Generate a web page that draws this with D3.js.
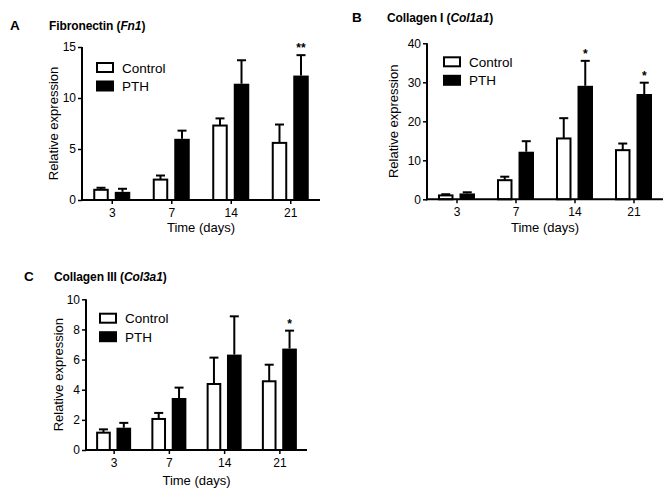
<!DOCTYPE html>
<html><head><meta charset="utf-8">
<script src="https://cdn.jsdelivr.net/npm/d3@7"></script>
<style>
html,body{margin:0;padding:0;background:#fff;}
svg{display:block;font-family:"Liberation Sans",Arial,sans-serif;}
</style></head>
<body>
<svg id="chart" width="672" height="496"></svg>
<script>
// ---- data ----
const categories = ["3", "7", "14", "21"];
const seriesNames = ["Control", "PTH"];

const fn1Control    = [1.0, 2.0, 7.3, 5.6];
const fn1ControlErr = [0.2, 0.4, 0.7, 1.8];
const fn1PTH        = [0.8, 6.0, 11.4, 12.2];
const fn1PTHErr     = [0.3, 0.8, 2.3, 2.0];
const fn1Sig        = ["", "", "", "**"];

const col1Control    = [1.0, 4.9, 15.6, 12.6];
const col1ControlErr = [0.3, 0.9, 5.2, 1.7];
const col1PTH        = [1.5, 12.2, 29.1, 27.0];
const col1PTHErr     = [0.3, 2.7, 6.4, 2.9];
const col1Sig        = ["", "", "*", "*"];

const col3Control    = [1.15, 2.06, 4.38, 4.56];
const col3ControlErr = [0.22, 0.40, 1.75, 1.10];
const col3PTH        = [1.48, 3.45, 6.33, 6.73];
const col3PTHErr     = [0.32, 0.69, 2.54, 1.19];
const col3Sig        = ["", "", "", "*"];

const fn1Ticks  = [0, 5, 10, 15];
const col1Ticks = [0, 10, 20, 30, 40];
const col3Ticks = [0, 2, 4, 6, 8, 10];

// ---- layout ----
const panels = [
  {letter: "A", title: ["Fibronectin (", "Fn1", ")"], letterX: 10, titleX: 49, titleY: 30,
   x0: 82, x1: 320, yTop: 47, yBot: 200, max: 15, ticks: fn1Ticks,
   ctrl: fn1Control, ctrlErr: fn1ControlErr, pth: fn1PTH, pthErr: fn1PTHErr, sig: fn1Sig,
   legX: 14, legY: 15, ylabX: -24, tickLabY: 17, xTitleY: 32, groupW: 37},
  {letter: "B", title: ["Collagen I (", "Col1a1", ")"], letterX: 352, titleX: 387, titleY: 22,
   x0: 427, x1: 663, yTop: 43.3, yBot: 199.3, max: 40, ticks: col1Ticks,
   ctrl: col1Control, ctrlErr: col1ControlErr, pth: col1PTH, pthErr: col1PTHErr, sig: col1Sig,
   legX: 16, legY: 13, ylabX: -29, tickLabY: 17, xTitleY: 33, groupW: 37},
  {letter: "C", title: ["Collagen III (", "Col3a1", ")"], letterX: 24, titleX: 54, titleY: 281,
   x0: 86, x1: 307, yTop: 299.3, yBot: 450, max: 10, ticks: col3Ticks,
   ctrl: col3Control, ctrlErr: col3ControlErr, pth: col3PTH, pthErr: col3PTHErr, sig: col3Sig,
   legX: 13, legY: 13.4, ylabX: -23, tickLabY: 16.5, xTitleY: 35, groupW: 35}
];

const svg = d3.select("#chart");

panels.forEach(p => {
  const g = svg.append("g");
  const x = d3.scalePoint().domain(categories).range([p.x0, p.x1]).padding(0.5);
  const xi = d3.scaleBand().domain(seriesNames).range([-p.groupW/2, p.groupW/2]).paddingInner(0.28);
  const y = d3.scaleLinear().domain([0, p.max]).range([p.yBot, p.yTop]);

  // panel letter + title
  g.append("text").attr("x", p.letterX).attr("y", p.titleY)
    .attr("font-size", 13.5).attr("font-weight", "bold").text(p.letter);
  const t = g.append("text").attr("x", p.titleX).attr("y", p.titleY)
    .attr("font-size", 12).attr("font-weight", "bold").attr("letter-spacing", -0.1);
  t.append("tspan").text(p.title[0]);
  t.append("tspan").attr("font-style", "italic").text(p.title[1]);
  t.append("tspan").text(p.title[2]);

  const rows = categories.map((c, i) => [
    {c, s: "Control", v: p.ctrl[i], e: p.ctrlErr[i], sig: ""},
    {c, s: "PTH", v: p.pth[i], e: p.pthErr[i], sig: p.sig[i]}
  ]).flat();

  // error bars (drawn first so bar covers the lower part)
  const eb = g.selectAll(".eb").data(rows).enter().append("g");
  eb.append("line")
    .attr("x1", d => x(d.c) + xi(d.s) + xi.bandwidth()/2)
    .attr("x2", d => x(d.c) + xi(d.s) + xi.bandwidth()/2)
    .attr("y1", d => y(d.v)).attr("y2", d => y(d.v + d.e))
    .attr("stroke", "#000").attr("stroke-width", 2);
  eb.append("line")
    .attr("x1", d => x(d.c) + xi(d.s) + xi.bandwidth()/2 - 4.5)
    .attr("x2", d => x(d.c) + xi(d.s) + xi.bandwidth()/2 + 4.5)
    .attr("y1", d => y(d.v + d.e)).attr("y2", d => y(d.v + d.e))
    .attr("stroke", "#000").attr("stroke-width", 2);

  // bars
  g.selectAll(".bar").data(rows).enter().append("rect")
    .attr("x", d => x(d.c) + xi(d.s) + (d.s === "Control" ? 1 : 0))
    .attr("width", d => xi.bandwidth() - (d.s === "Control" ? 2 : 0))
    .attr("y", d => y(d.v))
    .attr("height", d => y(0) - y(d.v))
    .attr("fill", d => d.s === "Control" ? "#fff" : "#000")
    .attr("stroke", "#000").attr("stroke-width", d => d.s === "Control" ? 2 : 0);

  // significance
  g.selectAll(".sig").data(rows.filter(d => d.sig)).enter().append("text")
    .attr("x", d => x(d.c) + xi(d.s) + xi.bandwidth()/2)
    .attr("y", d => y(d.v + d.e) - 3)
    .attr("text-anchor", "middle").attr("font-size", 12).attr("font-weight", "bold")
    .text(d => d.sig);

  // y axis
  const ya = g.append("g").attr("transform", `translate(${p.x0},0)`)
    .call(d3.axisLeft(y).tickValues(p.ticks).tickSize(4).tickPadding(2).tickSizeOuter(0));
  ya.select(".domain").attr("stroke-width", 2).attr("d", `M0,${p.yBot+1}V${p.yTop}`);
  ya.selectAll(".tick line").attr("stroke-width", 1.5);
  ya.selectAll("text").attr("font-size", 12).attr("font-family", "Liberation Sans, Arial, sans-serif");

  // x axis
  const xa = g.append("g").attr("transform", `translate(0,${p.yBot})`)
    .call(d3.axisBottom(x).tickSize(4).tickPadding(3).tickSizeOuter(0));
  xa.select(".domain").attr("stroke-width", 2).attr("d", `M${p.x0-1},0H${p.x1}`);
  xa.selectAll(".tick line").attr("stroke-width", 1.5);
  xa.selectAll("text").attr("font-size", 12).attr("font-family", "Liberation Sans, Arial, sans-serif")
    .attr("dy", null).attr("y", p.tickLabY);

  // axis titles
  g.append("text").attr("transform", `translate(${p.x0 + p.ylabX},${(p.yTop + p.yBot)/2}) rotate(-90)`)
    .attr("text-anchor", "middle").attr("font-size", 13).text("Relative expression");
  g.append("text").attr("x", (p.x0 + p.x1)/2).attr("y", p.yBot + p.xTitleY)
    .attr("text-anchor", "middle").attr("font-size", 13).text("Time (days)");

  // legend
  const lg = g.append("g").attr("transform", `translate(${p.x0 + p.legX},${p.yTop + p.legY})`);
  seriesNames.forEach((s, i) => {
    lg.append("rect").attr("x", 1).attr("y", i*18.5 + 1).attr("width", 16).attr("height", 9)
      .attr("fill", s === "Control" ? "#fff" : "#000").attr("stroke", "#000").attr("stroke-width", 2);
    lg.append("text").attr("x", 26).attr("y", i*18.5 + 10.5).attr("font-size", 13.5).text(s);
  });
});
</script>
</body></html>
